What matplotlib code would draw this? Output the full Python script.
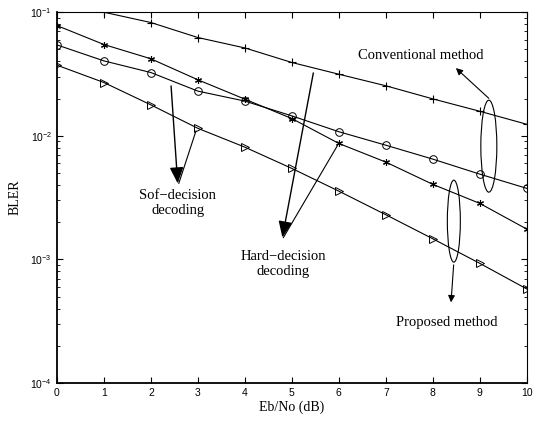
import numpy as np
import matplotlib.pyplot as plt
from matplotlib.patches import Ellipse

plt.rcParams['font.family'] = 'Liberation Sans'
plt.rcParams['mathtext.fontset'] = 'custom'
plt.rcParams['mathtext.rm'] = 'Liberation Sans'
plt.rcParams['mathtext.it'] = 'Liberation Sans:italic'

ebno = [0, 1, 2, 3, 4, 5, 6, 7, 8, 9, 10]
conventional = [0.125, 0.1, 0.0825, 0.0624, 0.0514, 0.0392, 0.0315, 0.0254, 0.0199, 0.0158, 0.0124]
hard = [0.078, 0.0548, 0.042, 0.0284, 0.0198, 0.0138, 0.00868, 0.00613, 0.00405, 0.00284, 0.00176]
soft = [0.0544, 0.0404, 0.0325, 0.023, 0.0191, 0.0145, 0.0108, 0.0084, 0.00648, 0.0049, 0.00376]
proposed = [0.0373, 0.027, 0.0178, 0.0115, 0.0081, 0.00545, 0.00357, 0.0023, 0.00147, 0.00093, 0.000577]

serif = 'Liberation Serif'
fig = plt.figure(figsize=(5.42, 4.21), dpi=100)
ax = fig.add_axes([0.105, 0.090, 0.867, 0.881])

ax.semilogy(ebno, conventional, 'k-', marker='+', ms=6, mew=0.8, lw=0.8)
ax.semilogy(ebno, hard, 'k-', marker=(6, 2, 0), ms=5, mew=0.8, lw=0.8)
ax.semilogy(ebno, soft, 'k-', marker='o', ms=5.5, mfc='none', mew=0.7, lw=0.8)
ax.semilogy(ebno, proposed, 'k-', marker='>', ms=5.5, mfc='none', mew=0.7, lw=0.8)

ax.set_xlim(0, 10)
ax.set_ylim(1e-4, 1e-1)
ax.set_xticks(range(11))
ax.tick_params(which='both', direction='in', top=True, right=True, labelsize=7.5)
ax.tick_params(which='major', length=4)
ax.tick_params(which='minor', length=2)
for s in ax.spines.values():
    s.set_linewidth(0.8)
ax.spines['left'].set_linewidth(1.3)
ax.spines['bottom'].set_linewidth(1.3)

ax.set_xlabel('Eb/No (dB)', family=serif, fontsize=10, labelpad=2)
ax.set_ylabel('BLER', family=serif, fontsize=10, labelpad=6)

ta = ax.transAxes
def px(x, y):
    # figure pixel (from top-left) -> axes fraction
    return ((x - 57) / 470, (383 - y) / 371)

ax.add_patch(Ellipse(px(489, 146), 16 / 470, 92 / 371, transform=ta, fill=False, lw=0.8))
ax.add_patch(Ellipse(px(454, 221), 13 / 470, 82 / 371, transform=ta, fill=False, lw=0.8))

thin = dict(arrowstyle='-|>', color='k', lw=0.8, mutation_scale=10)
bold = dict(arrowstyle='-|>,head_length=0.7,head_width=0.3', color='k', lw=1.0, mutation_scale=14)
line = dict(arrowstyle='-', color='k', lw=0.8)

ax.text(*px(421, 55), 'Conventional method', transform=ta, family=serif, fontsize=10.5, ha='center', va='center')
ax.annotate('', xy=px(454, 66), xytext=px(491, 100), xycoords=ta, textcoords=ta, arrowprops=thin)

ax.text(*px(447, 322), 'Proposed method', transform=ta, family=serif, fontsize=10.5, ha='center', va='center')
ax.annotate('', xy=px(451, 305), xytext=px(454, 262), xycoords=ta, textcoords=ta, arrowprops=thin)

ax.text(*px(178, 203), 'Sof\u2212decision\ndecoding', transform=ta, family=serif, fontsize=10.5,
        ha='center', va='center', linespacing=1.2)
ax.annotate('', xy=px(178, 186), xytext=px(171, 83), xycoords=ta, textcoords=ta, arrowprops=bold)
ax.annotate('', xy=px(178, 186), xytext=px(197, 128), xycoords=ta, textcoords=ta, arrowprops=line)

ax.text(*px(283, 264), 'Hard\u2212decision\ndecoding', transform=ta, family=serif, fontsize=10.5,
        ha='center', va='center', linespacing=1.2)
ax.annotate('', xy=px(282, 240), xytext=px(314, 70), xycoords=ta, textcoords=ta, arrowprops=bold)
ax.annotate('', xy=px(282, 240), xytext=px(339, 143), xycoords=ta, textcoords=ta, arrowprops=line)

fig.savefig('out.png', dpi=100)
